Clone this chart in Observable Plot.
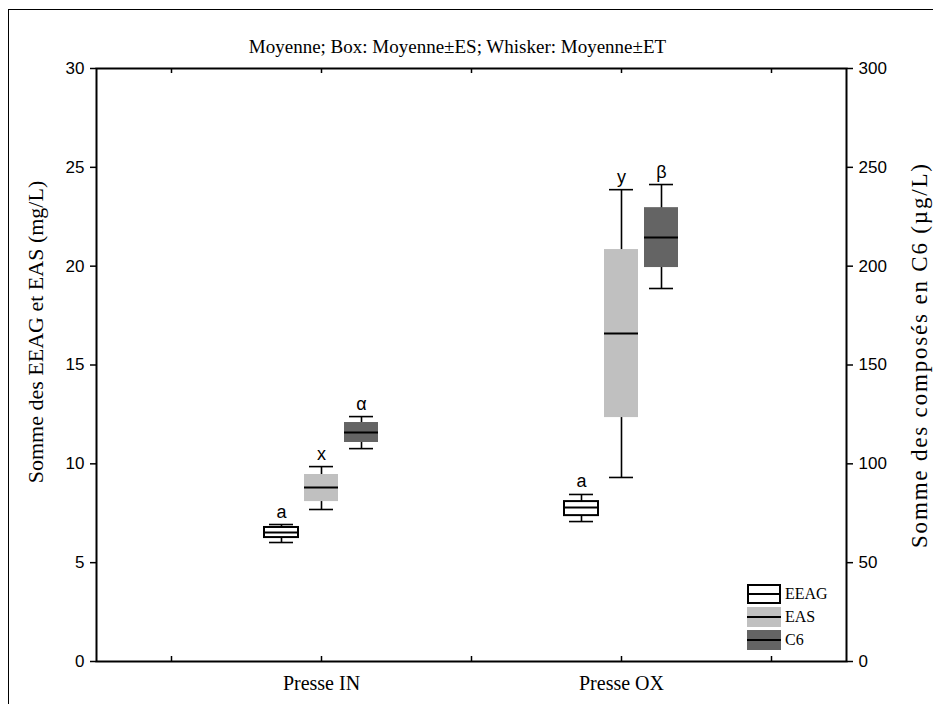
<!DOCTYPE html>
<html><head><meta charset="utf-8">
<script src="https://cdn.jsdelivr.net/npm/d3@7"></script>
<script src="https://cdn.jsdelivr.net/npm/@observablehq/plot@0.6"></script>
<style>
body{margin:0;background:#fff}
#wrap{position:relative;width:933px;height:704px;overflow:hidden}
#border{position:absolute;left:8px;top:9px;right:-4px;bottom:-4px;border-left:1px solid #000;border-top:1px solid #000;pointer-events:none}
#legend{position:absolute;left:747px;top:584px;font-family:"Liberation Serif";font-size:16px;line-height:20px}
#legend div{display:flex;align-items:center;height:20px;margin-bottom:3px}
#legend svg{margin-right:4px}
</style></head>
<body><div id="wrap"><div id="chart"></div><div id="border"></div><div id="legend"></div></div>
<script>
// ---- data ----
const groups = ["Presse IN", "Presse OX"];
const series = ["EEAG", "EAS", "C6"];
const seriesColors = ["#ffffff", "#c0c0c0", "#646464"];
const title = "Moyenne; Box: Moyenne±ES; Whisker: Moyenne±ET";
const leftLabel = "Somme des EEAG et EAS (mg/L)";
const rightLabel = "Somme des composés en C6 (µg/L)";

// EEAG (mg/L)
const eeagMean  = [6.53, 7.79];
const eeagBoxLo = [6.27, 7.38];
const eeagBoxHi = [6.78, 8.09];
const eeagWhLo  = [6.02, 7.08];
const eeagWhHi  = [6.93, 8.45];
// EAS (mg/L)
const easMean  = [8.80, 16.59];
const easBoxLo = [8.09, 12.34];
const easBoxHi = [9.46, 20.84];
const easWhLo  = [7.69, 9.31];
const easWhHi  = [9.86, 23.87];
// C6 (µg/L, right axis)
const c6Mean  = [115.8, 214.5];
const c6BoxLo = [110.8, 199.3];
const c6BoxHi = [120.9, 229.6];
const c6WhLo  = [107.7, 188.7];
const c6WhHi  = [123.9, 241.3];

const eeagLetters = ["a", "a"];
const easLetters  = ["x", "y"];
const c6Letters   = ["α", "β"];

const leftTicks  = [0, 5, 10, 15, 20, 25, 30];
const xSlots     = [1, 2, 3, 4, 5];
const groupSlots = [2, 4];
const rightFactor = 10; // right axis = left axis × 10

// ---- build table ----
const src = [
  {mean: eeagMean, lo: eeagBoxLo, hi: eeagBoxHi, wlo: eeagWhLo, whi: eeagWhHi, let: eeagLetters, k: 1},
  {mean: easMean,  lo: easBoxLo,  hi: easBoxHi,  wlo: easWhLo,  whi: easWhHi,  let: easLetters,  k: 1},
  {mean: c6Mean,   lo: c6BoxLo,   hi: c6BoxHi,   wlo: c6WhLo,   whi: c6WhHi,   let: c6Letters,   k: 1 / rightFactor}
];
const offset = 40 / 150, halfBox = 17 / 150, halfCap = 12 / 150;
const rows = [];
groups.forEach((g, gi) => {
  series.forEach((s, si) => {
    const d = src[si];
    rows.push({
      group: g, series: s, color: seriesColors[si],
      x: groupSlots[gi] + (si - 1) * offset,
      mean: d.mean[gi] * d.k, lo: d.lo[gi] * d.k, hi: d.hi[gi] * d.k,
      wlo: d.wlo[gi] * d.k, whi: d.whi[gi] * d.k, letter: d.let[gi]
    });
  });
});

const serif = "Liberation Serif";
const sans = "Liberation Sans";
const W = 933, H = 704, mT = 68, mB = 43, mL = 96, mR = 87;
const innerH = H - mT - mB;

const chart = Plot.plot({
  width: W, height: H,
  marginTop: mT, marginBottom: mB, marginLeft: mL, marginRight: mR,
  style: {fontFamily: sans, fontSize: "17px", background: "white", color: "black"},
  x: {domain: [0.5, 5.5], axis: null},
  y: {domain: [0, 30], axis: null},
  marks: [
    // whiskers
    Plot.ruleX(rows, {x: "x", y1: "wlo", y2: "whi", stroke: "black", strokeWidth: 1.6}),
    Plot.ruleY(rows, {y: "wlo", x1: d => d.x - halfCap, x2: d => d.x + halfCap, stroke: "black", strokeWidth: 1.6}),
    Plot.ruleY(rows, {y: "whi", x1: d => d.x - halfCap, x2: d => d.x + halfCap, stroke: "black", strokeWidth: 1.6}),
    // boxes
    Plot.rect(rows.filter(d => d.series === "EEAG"), {x1: d => d.x - halfBox, x2: d => d.x + halfBox, y1: "lo", y2: "hi", fill: "white", stroke: "black", strokeWidth: 2}),
    Plot.rect(rows.filter(d => d.series === "EAS"), {x1: d => d.x - halfBox, x2: d => d.x + halfBox, y1: "lo", y2: "hi", fill: seriesColors[1]}),
    Plot.rect(rows.filter(d => d.series === "C6"), {x1: d => d.x - halfBox, x2: d => d.x + halfBox, y1: "lo", y2: "hi", fill: seriesColors[2]}),
    // means
    Plot.ruleY(rows, {y: "mean", x1: d => d.x - halfBox, x2: d => d.x + halfBox, stroke: "black", strokeWidth: 2}),
    // significance letters
    Plot.text(rows, {x: "x", y: "whi", text: "letter", lineAnchor: "bottom", dy: -7, fontSize: 18, fontFamily: sans}),
    // frame
    Plot.frame({stroke: "black", strokeWidth: 2}),
    // inward x ticks (bottom and top)
    Plot.tickX(xSlots, {x: d => d, insetTop: innerH - 5, stroke: "black", strokeWidth: 1.5}),
    Plot.tickX(xSlots, {x: d => d, insetBottom: innerH - 5, stroke: "black", strokeWidth: 1.5}),
    // y axes
    Plot.axisY({anchor: "left", ticks: leftTicks, tickSize: 6, tickPadding: 6, label: null, fontSize: 17, fontFamily: sans, strokeWidth: 1.5}),
    Plot.axisY({anchor: "right", ticks: leftTicks, tickSize: 6, tickPadding: 6, label: null, tickFormat: d => d * rightFactor, fontSize: 17, fontFamily: sans, strokeWidth: 1.5}),
    // x category labels
    Plot.text(groups, {x: (d, i) => groupSlots[i], frameAnchor: "bottom", dy: 28, text: d => d, fontFamily: serif, fontSize: 20}),
    // axis titles
    Plot.text([leftLabel], {frameAnchor: "left", textAnchor: "middle", dx: -61, dy: -33, rotate: -90, fontFamily: serif, fontSize: 22}),
    Plot.text([rightLabel], {frameAnchor: "right", textAnchor: "middle", dx: 73, dy: -9, rotate: -90, fontFamily: serif, fontSize: 23, className: "rlabel"}),
    // title
    Plot.text([title], {frameAnchor: "top", dx: -14, dy: -29, fontFamily: serif, fontSize: 19})
  ]
});
document.getElementById("chart").appendChild(chart);
// stretch right title spacing to match the reference's wider face
d3.select(chart).selectAll("g.rlabel text").attr("textLength", 384).attr("lengthAdjust", "spacing");

// legend
const legend = document.getElementById("legend");
series.forEach((s, i) => {
  const row = document.createElement("div");
  const sw = d3.create("svg").attr("width", 34).attr("height", 20);
  sw.append("rect").attr("x", i === 0 ? 1 : 0).attr("y", i === 0 ? 1 : 0)
    .attr("width", i === 0 ? 32 : 34).attr("height", i === 0 ? 18 : 20)
    .attr("fill", seriesColors[i]).attr("stroke", i === 0 ? "black" : "none").attr("stroke-width", 2);
  sw.append("line").attr("x1", 0).attr("x2", 34).attr("y1", 10).attr("y2", 10).attr("stroke", "black").attr("stroke-width", 2);
  row.appendChild(sw.node());
  const t = document.createElement("span");
  t.textContent = s;
  row.appendChild(t);
  legend.appendChild(row);
});
</script>
</body></html>
